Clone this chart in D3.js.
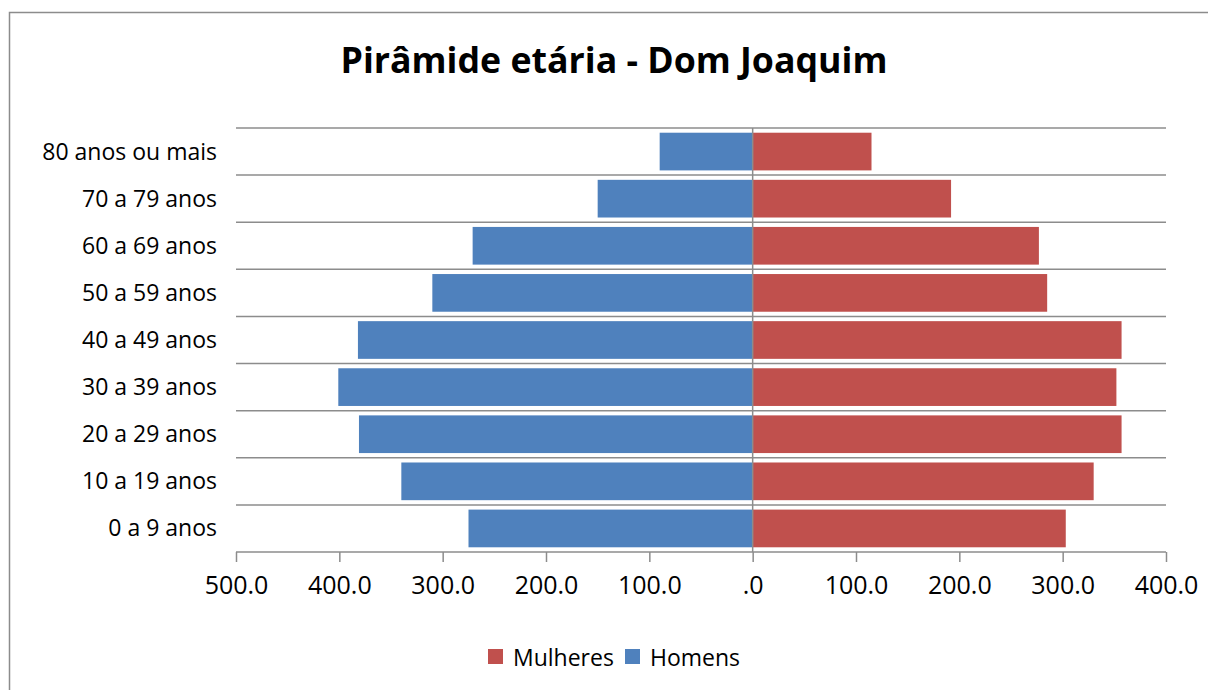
<!DOCTYPE html>
<html><head><meta charset="utf-8">
<script src="https://cdn.jsdelivr.net/npm/d3@7"></script>
<style>body{margin:0;background:#fff;} svg{display:block;}</style>
</head><body>
<svg id="c" width="1208" height="690"></svg>
<script>
const categories = ["80 anos ou mais","70 a 79 anos","60 a 69 anos","50 a 59 anos","40 a 49 anos","30 a 39 anos","20 a 29 anos","10 a 19 anos","0 a 9 anos"];
const homens = [90, 150, 271, 310, 382, 401, 381, 340, 275];
const mulheres = [115, 192, 277, 285, 357, 352, 357, 330, 303];
const xTicks = [-500,-400,-300,-200,-100,0,100,200,300,400];
const title = "Pirâmide etária - Dom Joaquim";

const svg = d3.select("#c");
const font = "'Open Sans', sans-serif";
// outer border
svg.append("rect").attr("x",9.5).attr("y",12.5).attr("width",1250).attr("height",700)
  .attr("fill","none").attr("stroke","#8c8c8c").attr("stroke-width",1.5);

const x = d3.scaleLinear().domain([-500,400]).range([236,1166]);
const y = d3.scaleBand().domain(categories).range([128,552]).paddingInner(0.2).paddingOuter(0.1);

// grid lines (band boundaries)
const bounds = d3.range(categories.length).map(i => 128 + i*(424/categories.length));
svg.append("g").selectAll("line").data(bounds).join("line")
  .attr("x1",236).attr("x2",1166).attr("y1",d=>d).attr("y2",d=>d)
  .attr("stroke","#8c8c8c").attr("stroke-width",1.5);

// bars
svg.append("g").selectAll("rect").data(homens).join("rect")
  .attr("x",(d)=>x(-d)).attr("width",d=>x(0)-x(-d))
  .attr("y",(d,i)=>y(categories[i])).attr("height",y.bandwidth())
  .attr("fill","#4F81BD");
svg.append("g").selectAll("rect").data(mulheres).join("rect")
  .attr("x",x(0)).attr("width",d=>x(d)-x(0))
  .attr("y",(d,i)=>y(categories[i])).attr("height",y.bandwidth())
  .attr("fill","#C0504D");

// x axis
const xa = svg.append("g").attr("transform","translate(0,552)")
  .call(d3.axisBottom(x).tickValues(xTicks).tickSize(10).tickPadding(14)
    .tickFormat(d => d===0 ? ".0" : Math.abs(d).toFixed(1)));
xa.select(".domain").attr("stroke","#8c8c8c").attr("stroke-width",1.5).attr("d","M236,0H1166");
xa.selectAll(".tick line").attr("stroke","#8c8c8c").attr("stroke-width",1.5);
xa.selectAll(".tick text").attr("font-family",font).attr("font-size",25).attr("fill","#000");

// zero vertical line
svg.append("line").attr("x1",x(0)).attr("x2",x(0)).attr("y1",128).attr("y2",552)
  .attr("stroke","#8c8c8c").attr("stroke-width",1.5);

// y labels
svg.append("g").selectAll("text").data(categories).join("text")
  .attr("x",217).attr("y",d=>y(d)+y.bandwidth()/2).attr("dy","0.35em")
  .attr("text-anchor","end").attr("font-family",font).attr("font-size",23).attr("fill","#000")
  .text(d=>d);

// title
svg.append("text").attr("x",614).attr("y",73).attr("text-anchor","middle")
  .attr("font-family",font).attr("font-weight","bold").attr("font-size",35.7).attr("fill","#000")
  .text(title);

// legend
const legend = [{name:"Mulheres",color:"#C0504D",x:488},{name:"Homens",color:"#4F81BD",x:625}];
const lg = svg.append("g").selectAll("g").data(legend).join("g");
lg.append("rect").attr("x",d=>d.x).attr("y",649).attr("width",15).attr("height",15).attr("fill",d=>d.color);
lg.append("text").attr("x",d=>d.x+25).attr("y",658).attr("dy","0.35em")
  .attr("font-family",font).attr("font-size",23).attr("fill","#000").text(d=>d.name);
</script>
</body></html>
